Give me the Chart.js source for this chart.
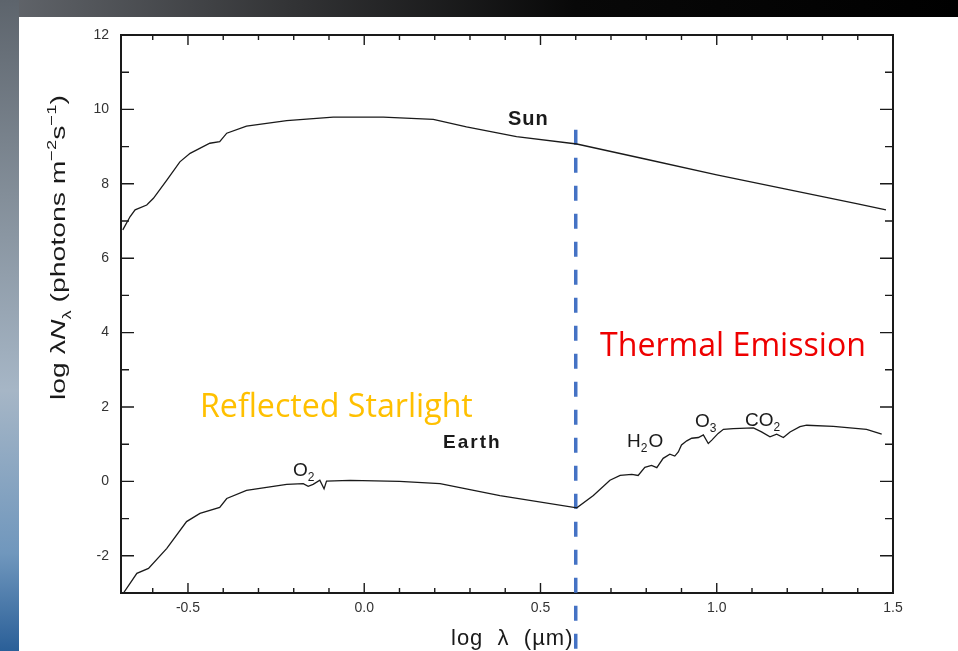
<!DOCTYPE html>
<html>
<head>
<meta charset="utf-8">
<script src="https://cdn.jsdelivr.net/npm/chart.js@4/dist/chart.umd.min.js"></script>
<style>
  html, body { margin: 0; padding: 0; background: #fff; }
  canvas { display: block; }
</style>
</head>
<body>
<canvas id="myChart" width="958" height="651"></canvas>
<script>
// ----------- Data ----------- //
const sunX = [-0.685, -0.664, -0.65, -0.617, -0.598, -0.56, -0.523, -0.494, -0.438, -0.41, -0.39, -0.334,
              -0.22, -0.088, 0.054, 0.196, 0.29, 0.432, 0.603, 0.8, 1.0, 1.2, 1.4, 1.48];
const sunY = [6.76, 7.12, 7.30, 7.43, 7.61, 8.10, 8.59, 8.82, 9.09, 9.13, 9.36, 9.55,
              9.70, 9.79, 9.79, 9.73, 9.53, 9.27, 9.07, 8.66, 8.24, 7.85, 7.46, 7.30];

const earthX = [-0.683, -0.645, -0.612, -0.56, -0.504, -0.466, -0.41, -0.39, -0.334, -0.22, -0.173, -0.159,
                -0.145, -0.126, -0.114, -0.107, -0.04, 0.1, 0.215, 0.385, 0.603,
                0.65, 0.697, 0.726, 0.759, 0.777, 0.796, 0.815, 0.83, 0.848, 0.867, 0.881, 0.891, 0.9,
                0.915, 0.929, 0.948, 0.962, 0.976, 0.986, 1.004, 1.019, 1.047, 1.104, 1.127, 1.151,
                1.17, 1.189, 1.208, 1.236, 1.255, 1.331, 1.425, 1.468];
const earthY = [-3.0, -2.47, -2.34, -1.80, -1.08, -0.86, -0.70, -0.46, -0.24, -0.08, -0.06, -0.13,
                -0.08, 0.03, -0.20, 0.01, 0.03, 0.0, -0.06, -0.38, -0.71,
                -0.38, 0.03, 0.16, 0.19, 0.16, 0.38, 0.43, 0.37, 0.62, 0.73, 0.68, 0.79, 0.98,
                1.09, 1.16, 1.18, 1.25, 1.02, 1.11, 1.29, 1.40, 1.42, 1.44, 1.33, 1.20,
                1.27, 1.18, 1.33, 1.47, 1.51, 1.48, 1.40, 1.27];

const divideX = 0.6;
const divideY = [9.45, -4.6];

const xTicks = [-0.5, 0.0, 0.5, 1.0, 1.5];
const yTicks = [-2, 0, 2, 4, 6, 8, 10, 12];

const X_MIN = -0.69, X_MAX = 1.5, Y_MIN = -3, Y_MAX = 12;

const INK = '#1a1a1a';
const SANS = '"Liberation Sans", Arial, sans-serif';

const toPoints = (xs, ys) => xs.map((x, i) => ({ x: x, y: ys[i] }));

// ----------- Drawing helpers ----------- //
const fitFont = (c, text, width, style, family) => {
    c.font = `${style} 20px ${family}`;
    const w = c.measureText(text).width;
    return 20 * width / w;
}

const drawChem = (c, x, y, parts) => {
    // parts: [text, isSub]
    let cx = x;
    parts.forEach(([t, sub]) => {
        c.font = sub ? `12px ${SANS}` : `19px ${SANS}`;
        c.fillText(t, cx, sub ? y + 5 : y);
        cx += c.measureText(t).width + (sub ? 1 : 0);
    });
}

const background = {
    id: 'background',
    beforeDraw: chart => {
        const c = chart.ctx;
        c.save();
        c.fillStyle = '#ffffff';
        c.fillRect(0, 0, chart.width, chart.height);
        // top band of the slide
        let g = c.createLinearGradient(0, 0, chart.width, 0);
        g.addColorStop(0, '#62666c');
        g.addColorStop(0.3, '#333436');
        g.addColorStop(0.6, '#080808');
        g.addColorStop(1, '#000000');
        c.fillStyle = g;
        c.fillRect(0, 0, chart.width, 17);
        // left band
        g = c.createLinearGradient(0, 0, 0, chart.height);
        g.addColorStop(0, '#5d646c');
        g.addColorStop(0.3, '#838e99');
        g.addColorStop(0.6, '#a6b6c6');
        g.addColorStop(0.85, '#7097bd');
        g.addColorStop(1, '#2a5f98');
        c.fillStyle = g;
        c.fillRect(0, 0, 19, chart.height);
        c.restore();
    }
};

const frame = {
    id: 'frame',
    beforeDatasetsDraw: chart => {
        const c = chart.ctx;
        const { left, right, top, bottom } = chart.chartArea;
        const xs = chart.scales.x, ys = chart.scales.y;
        c.save();
        c.strokeStyle = INK;
        c.lineWidth = 2;
        c.strokeRect(left, top, right - left, bottom - top);
        c.lineWidth = 1.4;
        c.beginPath();
        for (let v = Y_MIN; v <= Y_MAX; v++) {
            const py = ys.getPixelForValue(v);
            const len = v % 2 === 0 ? 13 : 8;
            c.moveTo(left, py); c.lineTo(left + len, py);
            c.moveTo(right, py); c.lineTo(right - len, py);
        }
        for (let i = -6; i <= 15; i++) {
            const px = xs.getPixelForValue(i / 10);
            const len = i % 5 === 0 ? 10 : 5;
            c.moveTo(px, bottom); c.lineTo(px, bottom - len);
            c.moveTo(px, top); c.lineTo(px, top + len);
        }
        c.stroke();

        // x title
        c.fillStyle = INK;
        c.textBaseline = 'alphabetic';
        c.textAlign = 'left';
        c.font = `22px ${SANS}`;
        c.letterSpacing = '1px';
        c.fillText('log  λ  (µm)', 451, 645);
        c.letterSpacing = '0px';

        // y title, rotated, with sub/superscripts, stretched along its length
        const pieces = [
            ['log λ', 'n'], ['N', 'i'], ['λ', 's'], [' (photons m', 'n'],
            ['−2', 'u'], ['s', 'n'], ['−1', 'u'], [')', 'n']
        ];
        const size = 21;
        const fontFor = k => k === 'i' ? `italic ${size}px ${SANS}`
                           : (k === 's' || k === 'u') ? `${size * 0.65}px ${SANS}`
                           : `${size}px ${SANS}`;
        const total = pieces.reduce((w, p) => { c.font = fontFor(p[1]); return w + c.measureText(p[0]).width; }, 0);
        c.translate(65, 400);
        c.rotate(-Math.PI / 2);
        c.scale(305 / total, 1);
        let cx = 0;
        pieces.forEach(([t, k]) => {
            c.font = fontFor(k);
            const dy = k === 's' ? size * 0.3 : k === 'u' ? -size * 0.45 : 0;
            c.fillText(t, cx, dy);
            cx += c.measureText(t).width;
        });
        c.restore();
    }
};

const labels = {
    id: 'labels',
    afterDraw: chart => {
        const c = chart.ctx;
        c.save();
        c.textBaseline = 'alphabetic';
        c.textAlign = 'left';
        c.fillStyle = INK;
        c.font = `bold 20px ${SANS}`;
        c.letterSpacing = '1px';
        c.fillText('Sun', 508, 125);
        c.font = `bold 19px ${SANS}`;
        c.letterSpacing = '2px';
        c.fillText('Earth', 443, 448);
        c.letterSpacing = '0px';

        drawChem(c, 293, 476, [['O', false], ['2', true]]);
        drawChem(c, 627, 447, [['H', false], ['2', true], ['O', false]]);
        drawChem(c, 695, 427, [['O', false], ['3', true]]);
        drawChem(c, 745, 426, [['CO', false], ['2', true]]);

        let s = fitFont(c, 'Reflected Starlight', 273, 'normal', '"Open Sans", sans-serif');
        c.font = `${s}px "Open Sans", sans-serif`;
        c.fillStyle = '#ffc000';
        c.fillText('Reflected Starlight', 200, 417);

        s = fitFont(c, 'Thermal Emission', 266, 'normal', '"Open Sans", sans-serif');
        c.font = `${s}px "Open Sans", sans-serif`;
        c.fillStyle = '#ee0000';
        c.fillText('Thermal Emission', 600, 356);
        c.restore();
    }
};

// ----------- Chart js Stuff ----------- //
const ctx = document.getElementById('myChart');
const tickFont = { family: SANS, size: 14 };

const chart = new Chart(ctx, {
    type: 'scatter',
    data: {
        datasets: [{
            data: toPoints(sunX, sunY),
            showLine: true,
            borderColor: INK,
            borderWidth: 1.3,
            pointRadius: 0,
        }, {
            data: toPoints(earthX, earthY),
            showLine: true,
            borderColor: INK,
            borderWidth: 1.3,
            pointRadius: 0,
        }, {
            data: divideY.map(y => ({ x: divideX, y: y })),
            showLine: true,
            borderColor: '#4472c4',
            borderWidth: 3.5,
            borderDash: [15, 13],
            pointRadius: 0,
            clip: false,
        }]
    },
    options: {
        responsive: false,
        animation: false,
        events: [],
        layout: { padding: { top: 35, right: 65, left: 0, bottom: 0 } },
        plugins: {
            legend: { display: false },
            tooltip: { enabled: false }
        },
        scales: {
            x: {
                type: 'linear',
                min: X_MIN,
                max: X_MAX,
                grid: { display: false, drawTicks: false },
                border: { display: false },
                afterBuildTicks: s => { s.ticks = xTicks.map(v => ({ value: v })); },
                afterFit: s => { s.height = 58; },
                ticks: {
                    padding: 7,
                    font: tickFont,
                    color: '#333',
                    maxRotation: 0,
                    callback: v => v.toFixed(1)
                }
            },
            y: {
                type: 'linear',
                min: Y_MIN,
                max: Y_MAX,
                grid: { display: false, drawTicks: false },
                border: { display: false },
                afterBuildTicks: s => { s.ticks = yTicks.map(v => ({ value: v })); },
                afterFit: s => { s.width = 121; },
                ticks: {
                    padding: 12,
                    font: tickFont,
                    color: '#333',
                    callback: v => String(v)
                }
            }
        }
    },
    plugins: [background, frame, labels]
});
</script>
</body>
</html>
